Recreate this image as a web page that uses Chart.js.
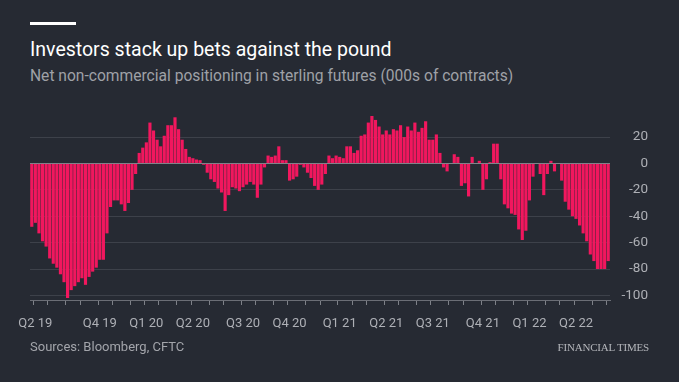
<!DOCTYPE html>
<html>
<head>
<meta charset="utf-8">
<script src="https://cdn.jsdelivr.net/npm/chart.js@4"></script>
<style>
  html,body{margin:0;padding:0;}
  body{background:#262a33;width:679px;height:382px;overflow:hidden;position:relative;font-family:Roboto,"Open Sans",sans-serif;}
  #rule{position:absolute;left:30px;top:22px;width:46px;height:3px;background:#ffffff;}
  #title{position:absolute;left:30px;top:38px;font-size:19.5px;color:#ffffff;white-space:nowrap;}
  #subtitle{position:absolute;left:30px;top:67px;font-size:15.6px;color:#9fa1a7;white-space:nowrap;}
  #source{position:absolute;left:30px;top:339px;font-size:13px;color:#a3a5ab;white-space:nowrap;}
  #ft{position:absolute;right:30px;top:341px;font-family:"Liberation Serif","DejaVu Serif",serif;font-size:11px;color:#b4b6bb;white-space:nowrap;letter-spacing:-0.2px;}
  canvas{position:absolute;left:0;top:0;}
</style>
</head>
<body>
<div id="rule"></div>
<div id="title">Investors stack up bets against the pound</div>
<div id="subtitle">Net non-commercial positioning in sterling futures (000s of contracts)</div>
<canvas id="c" width="679" height="382"></canvas>
<div id="source">Sources: Bloomberg, CFTC</div>
<div id="ft">FINANCIAL TIMES</div>
<script>
// Weekly net positioning, 000s of contracts
const values = [
  -48,-45,-53,-59,-63,-72,-76,-79,-84,-90,
  -102,-96,-93,-90,-87,-92,-86,-82,-79,-73,
  -73,-53,-33,-28,-28,-31,-36,-30,-20,-8,
  8,12,16,31,25,18,13,21,29,29,
  35,26,18,11,5,4,3,2.5,-1,-7,
  -12,-14,-19,-22,-36,-24,-18,-19,-21,-18,
  -16,-14,-16,-26,-16,-3,6,5,6,13,
  2.5,2.5,-13,-12,-10,-1,-3,-7,-11,-17,
  -20,-16,-8,6,4,6,5,4,13,13,
  8,10,21,22,31,36,33,28,22,25,
  22,26,25,29,20,28,25,31,24,27,
  32,18,18,22,8,-3,-6,0,7,5,
  -17,-15,-25,5,0,2,-20,-12,1,15,
  15,-12,-31,-34,-38,-39,-50,-58,-51,-28,
  -10,0,-8,-24,-8,2,-6,0,-13,-29,
  -35,-40,-42,-47,-53,-59,-69,-74,-80,-80,
  -80,-74
];

// Months marked on the time axis and the bar at which each month begins
const monthNames = [
  'Jun 19','Jul 19','Aug 19','Sep 19','Oct 19','Nov 19','Dec 19',
  'Jan 20','Feb 20','Mar 20','Apr 20','May 20','Jun 20','Jul 20','Aug 20','Sep 20','Oct 20','Nov 20','Dec 20',
  'Jan 21','Feb 21','Mar 21','Apr 21','May 21','Jun 21','Jul 21','Aug 21','Sep 21','Oct 21','Nov 21','Dec 21',
  'Jan 22','Feb 22','Mar 22','Apr 22','May 22','Jun 22'
];
const monthStartBar = [
  1,5,10,14,19,23,28,
  32,36,41,45,50,54,59,63,68,72,77,81,
  86,90,94,99,103,108,112,117,121,126,130,135,
  139,144,148,152,157,161
];
// Tick labels shown at the month ticks ('' = tick only)
const quarterLabels = [
  'Q2 19','','','','Q4 19','','',
  'Q1 20','','','Q2 20','','','Q3 20','','','Q4 20','','',
  'Q1 21','','','Q2 21','','','Q3 21','','','Q4 21','','',
  'Q1 22','','','Q2 22','',''
];
const yTicks = [20,0,-20,-40,-60,-80,-100];

const categories = values.map(() => '');
monthStartBar.forEach((b, m) => { categories[b] = monthNames[m]; });
const tickLabelAt = i => {
  const m = monthStartBar.indexOf(i);
  return m >= 0 ? quarterLabels[m] : '';
};

Chart.defaults.font.family = 'Roboto, "Open Sans", sans-serif';

new Chart(document.getElementById('c'), {
  type: 'bar',
  data: {
    labels: categories,
    datasets: [{
      data: values,
      backgroundColor: '#f1175e',
      borderWidth: 0,
      barPercentage: 0.88,
      categoryPercentage: 1.0
    }]
  },
  options: {
    responsive: false,
    animation: false,
    devicePixelRatio: 1,
    layout: { padding: { left: 30, right: 31, top: 114, bottom: 52 } },
    plugins: { legend: { display: false }, tooltip: { enabled: false } },
    scales: {
      x: {
        type: 'category',
        offset: true,
        grid: {
          offset: true,
          drawOnChartArea: false,
          drawTicks: true,
          tickLength: 5,
          tickColor: ctx => monthStartBar.includes(ctx.index) ? '#7e8188' : 'rgba(0,0,0,0)'
        },
        border: { display: true, color: '#6b6e76', width: 1 },
        ticks: {
          autoSkip: false,
          maxRotation: 0,
          minRotation: 0,
          padding: 11,
          color: '#aeb0b6',
          font: { size: 13 },
          callback: (v, i) => tickLabelAt(i)
        },
        afterFit: s => { s.height = 30; }
      },
      y: {
        position: 'right',
        min: -103.5,
        max: 37.5,
        afterBuildTicks: s => { s.ticks = yTicks.map(v => ({ value: v })); },
        grid: {
          drawTicks: false,
          color: ctx => ctx.tick && ctx.tick.value === 0 ? '#80838a' : '#3d414a',
          lineWidth: 1
        },
        border: { display: false },
        ticks: {
          includeBounds: false,
          crossAlign: 'far',
          padding: 0,
          color: '#aeb0b6',
          font: { size: 13.5 }
        },
        afterFit: s => { s.width = 38; }
      }
    }
  }
});
</script>
</body>
</html>
